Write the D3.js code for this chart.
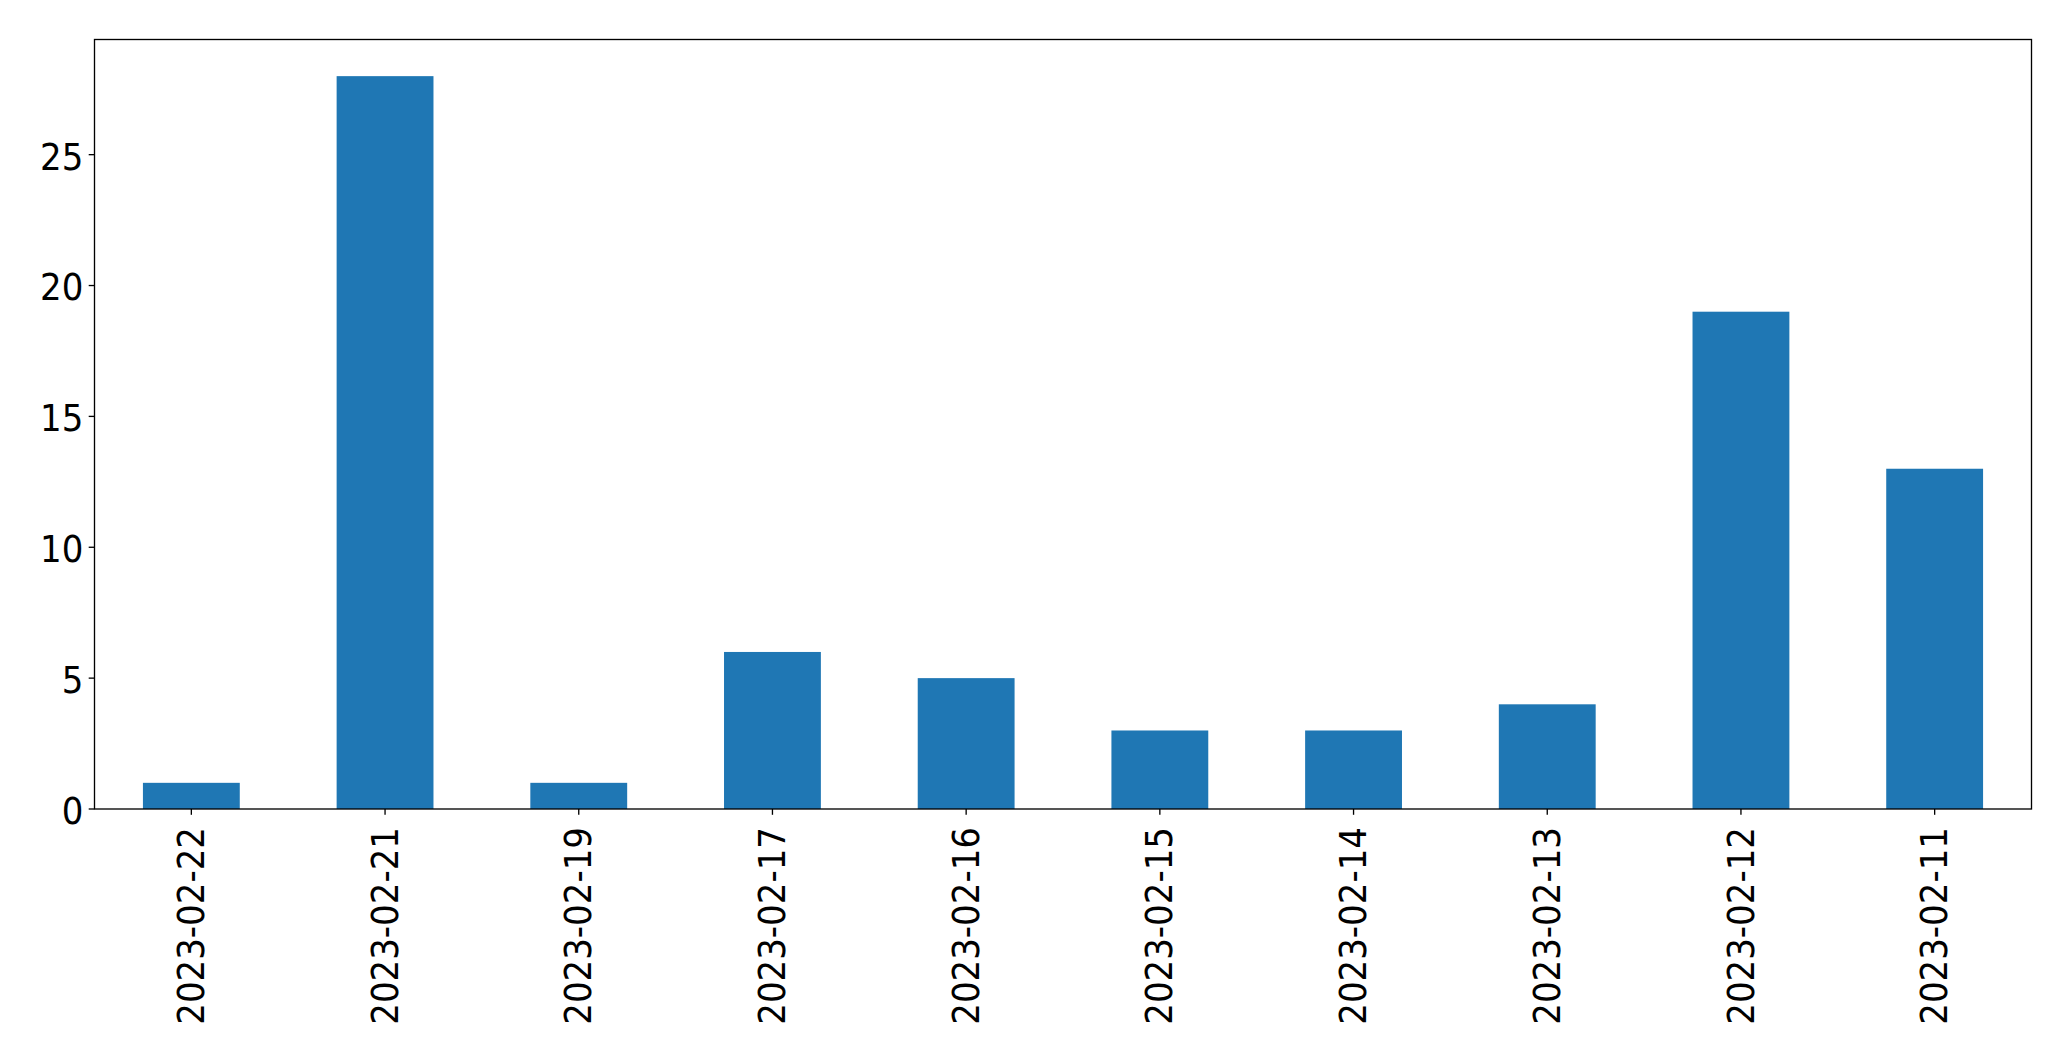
<!DOCTYPE html>
<html>
<head>
<meta charset="utf-8">
<script src="https://cdn.jsdelivr.net/npm/d3@7"></script>
<style>
  html, body { margin: 0; padding: 0; background: #fff; }
  svg { display: block; }
</style>
</head>
<body>
<svg id="chart" width="2071" height="1061"></svg>
<script>
const categories = ["2023-02-22", "2023-02-21", "2023-02-19", "2023-02-17", "2023-02-16", "2023-02-15", "2023-02-14", "2023-02-13", "2023-02-12", "2023-02-11"];
const values = [1, 28, 1, 6, 5, 3, 3, 4, 19, 13];
const yTicks = [0, 5, 10, 15, 20, 25];

(function () {
const W = 2071, H = 1061;
const mLeft = 94.5, mRight = 2031.5, mTop = 39.5, mBottom = 809;
const fontSize = 36.4;
const squeeze = 0.935;
const tickLen = 5.8;
const lw = 1.33;

const svg = d3.select("#chart");
svg.append("rect").attr("width", W).attr("height", H).attr("fill", "#fff");

const n = categories.length;
const x = d3.scaleLinear().domain([-0.5, n - 0.5]).range([mLeft, mRight]);
const yMax = d3.max(values) * 1.05;
const y = d3.scaleLinear().domain([0, yMax]).range([mBottom, mTop]);

function squeezeText(sel) {
  sel.each(function () {
    const L = this.getComputedTextLength();
    this.setAttribute("textLength", (L * squeeze).toFixed(2));
    this.setAttribute("lengthAdjust", "spacingAndGlyphs");
  });
}

// bars
svg.append("g").selectAll("rect").data(values).join("rect")
  .attr("x", (d, i) => x(i - 0.25))
  .attr("width", (d, i) => x(i + 0.25) - x(i - 0.25))
  .attr("y", d => y(d))
  .attr("height", d => y(0) - y(d))
  .attr("fill", "#1f77b4");

// frame
svg.append("rect")
  .attr("x", mLeft).attr("y", mTop)
  .attr("width", mRight - mLeft).attr("height", mBottom - mTop)
  .attr("fill", "none").attr("stroke", "#000").attr("stroke-width", lw);

// y ticks
const yg = svg.append("g");
yg.selectAll("line").data(yTicks).join("line")
  .attr("x1", mLeft - tickLen).attr("x2", mLeft)
  .attr("y1", d => y(d)).attr("y2", d => y(d))
  .attr("stroke", "#000").attr("stroke-width", lw);
yg.selectAll("text").data(yTicks).join("text")
  .attr("x", 83.3)
  .attr("y", d => y(d))
  .attr("dy", "0.41em")
  .attr("text-anchor", "end")
  .attr("font-family", "DejaVu Sans")
  .attr("font-size", fontSize)
  .attr("fill", "#000")
  .text(d => d)
  .call(squeezeText);

// x ticks
const xg = svg.append("g");
xg.selectAll("line").data(categories).join("line")
  .attr("x1", (d, i) => x(i)).attr("x2", (d, i) => x(i))
  .attr("y1", mBottom).attr("y2", mBottom + tickLen)
  .attr("stroke", "#000").attr("stroke-width", lw);
xg.selectAll("text").data(categories).join("text")
  .attr("transform", (d, i) => `translate(${x(i)},${mBottom + 18}) rotate(-90)`)
  .attr("dy", "0.345em")
  .attr("text-anchor", "end")
  .attr("font-family", "DejaVu Sans")
  .attr("font-size", fontSize)
  .attr("fill", "#000")
  .text(d => d)
  .call(squeezeText);
})();
</script>
</body>
</html>
